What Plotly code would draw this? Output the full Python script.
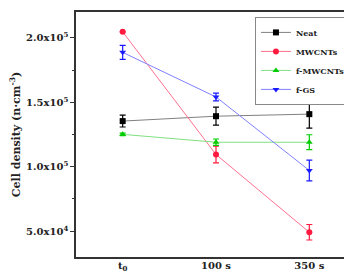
import plotly.graph_objects as go

categories = ["t0", "100 s", "350 s"]
tick_labels = ["t<sub>0</sub>", "100 s", "350 s"]
x_pos = [0, 1, 2]

neat = [1.354e5, 1.392e5, 1.408e5]
neat_err = [4.6e3, 7.0e3, 1.08e4]
mwcnt = [2.046e5, 1.095e5, 4.92e4]
mwcnt_err = [0.0, 6.5e3, 6.0e3]
fmwcnt = [1.251e5, 1.19e5, 1.19e5]
fmwcnt_err = [1.0e3, 2.5e3, 5.8e3]
fgs = [1.887e5, 1.541e5, 9.71e4]
fgs_err = [5.4e3, 3.0e3, 8.0e3]

y_tickvals = [5e4, 1e5, 1.5e5, 2e5]
y_ticktext = ["5.0x10<sup>4</sup>", "1.0x10<sup>5</sup>", "1.5x10<sup>5</sup>", "2.0x10<sup>5</sup>"]

series = [
    ("Neat", neat, neat_err, "#000000", "#808080", "square"),
    ("MWCNTs", mwcnt, mwcnt_err, "#ff1a40", "#ff7090", "circle"),
    ("f-MWCNTs", fmwcnt, fmwcnt_err, "#00cc00", "#80e080", "triangle-up"),
    ("f-GS", fgs, fgs_err, "#1a1aff", "#8080ff", "triangle-down"),
]

fig = go.Figure()
for name, vals, errs, mcol, lcol, sym in series:
    fig.add_trace(go.Scatter(
        x=x_pos, y=vals, name=name, mode="lines+markers",
        line=dict(color=lcol, width=1),
        marker=dict(color=mcol, symbol=sym, size=6),
        error_y=dict(type="data", array=errs, visible=True, color=mcol, thickness=1.2, width=3),
    ))

font_family = "DejaVu Serif"
fig.update_layout(
    width=352, height=272,
    margin=dict(l=67, r=3, t=2, b=23),
    paper_bgcolor="white", plot_bgcolor="white",
    font=dict(family=font_family, size=10, color="#222222", weight="bold"),
    showlegend=True,
    legend=dict(x=0.982, y=0.98, xanchor="right", yanchor="top",
                bgcolor="white", bordercolor="#888888", borderwidth=1,
                font=dict(size=8, family=font_family, weight="bold"),
                tracegroupgap=0, itemwidth=30),
    xaxis=dict(range=[-0.5, 2.5], tickvals=x_pos, ticktext=tick_labels,
               showgrid=False, zeroline=False, showline=True, linecolor="#333333",
               linewidth=1.5, mirror=True, ticks="", tickfont=dict(size=10),
               ticklabelstandoff=-2),
    yaxis=dict(range=[3e4, 2.2e5], tickvals=y_tickvals, ticktext=y_ticktext,
               showgrid=False, zeroline=False, showline=True, linecolor="#333333",
               linewidth=1.5, mirror=True, ticks="outside", ticklen=4, tickcolor="#333333",
               minor=dict(tickvals=[7.5e4, 1.25e5, 1.75e5], ticks="outside", ticklen=2, tickcolor="#333333"),
               tickfont=dict(size=10),
               title=dict(text="Cell density (n·cm<sup>-3</sup>)", font=dict(size=11), standoff=8)),
)

fig.write_html("out.html")
